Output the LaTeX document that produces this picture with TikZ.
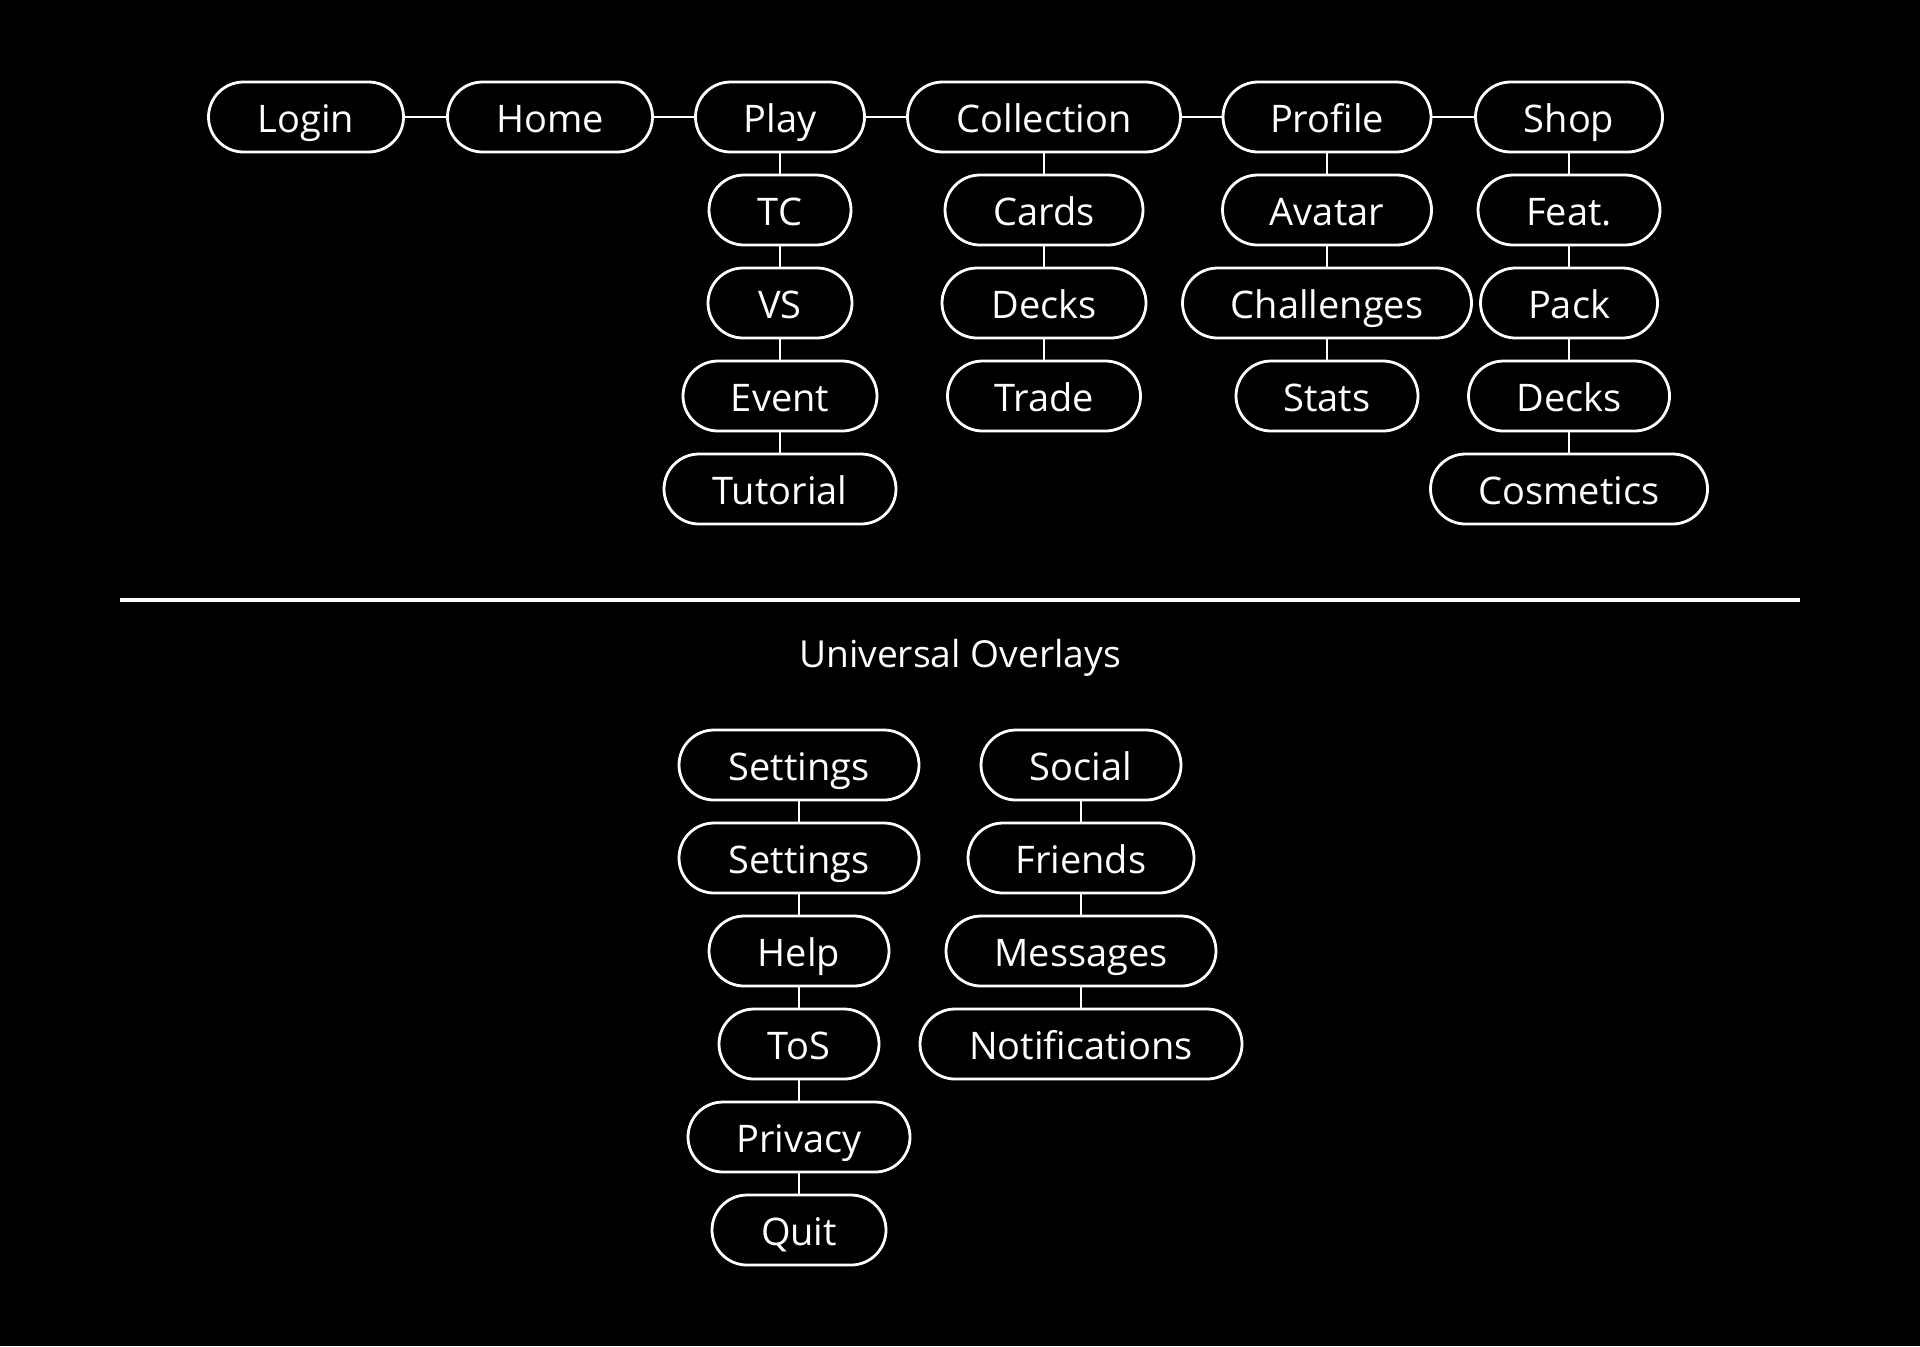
\documentclass[tikz,border=0pt]{standalone}
\usepackage{fontspec}
\setmainfont{Open Sans}
\begin{document}
\begin{tikzpicture}[x=0.5pt,y=-0.5pt,
  pill/.style={draw=white, line width=1.4pt, rounded corners=17.5pt,
    minimum height=35pt, inner sep=0pt, text=white,
    font=\fontsize{19}{22}\selectfont, text height=17pt, text depth=1.8pt},
  conn/.style={draw=white, line width=1.4pt},
  title/.style={text=white, font=\fontsize{18.6}{22}\selectfont, inner sep=0pt}]
\fill[black] (0,0) rectangle (1920,1346);
\useasboundingbox (0,0) rectangle (1920,1346);
% top row
\node[pill, minimum width=97.5pt]  (login) at (306,117) {Login};
\node[pill, minimum width=102.5pt] (home)  at (550,117) {Home};
\node[pill, minimum width=84.5pt]  (play)  at (780,117) {Play};
\node[pill, minimum width=136.5pt] (coll)  at (1044,117) {Collection};
\node[pill, minimum width=104pt]   (prof)  at (1327,117) {Profile};
\node[pill, minimum width=93.5pt]  (shop)  at (1569,117) {Shop};
% play column
\node[pill, minimum width=71pt]  (tc)    at (780,210) {TC};
\node[pill, minimum width=72pt]  (vs)    at (780,303) {VS};
\node[pill, minimum width=97pt]  (event) at (780,396) {Event};
\node[pill, minimum width=116pt] (tut)   at (780,489) {Tutorial};
% collection column
\node[pill, minimum width=99pt]   (cards) at (1044,210) {Cards};
\node[pill, minimum width=102pt]  (decks) at (1044,303) {Decks};
\node[pill, minimum width=96.5pt] (trade) at (1044,396) {Trade};
% profile column
\node[pill, minimum width=104.5pt] (avatar) at (1327,210) {Avatar};
\node[pill, minimum width=144.5pt] (chall)  at (1327,303) {Challenges};
\node[pill, minimum width=91pt]    (stats)  at (1327,396) {Stats};
% shop column
\node[pill, minimum width=91pt]    (feat)   at (1569,210) {Feat.};
\node[pill, minimum width=88.5pt]  (pack)   at (1569,303) {Pack};
\node[pill, minimum width=100.5pt] (sdecks) at (1569,396) {Decks};
\node[pill, minimum width=138.5pt] (cosm)   at (1569,489) {Cosmetics};
% connectors top
\draw[conn] (login) -- (home);
\draw[conn] (home) -- (play);
\draw[conn] (play) -- (coll);
\draw[conn] (coll) -- (prof);
\draw[conn] (prof) -- (shop);
\draw[conn] (play) -- (tc);
\draw[conn] (tc) -- (vs);
\draw[conn] (vs) -- (event);
\draw[conn] (event) -- (tut);
\draw[conn] (coll) -- (cards);
\draw[conn] (cards) -- (decks);
\draw[conn] (decks) -- (trade);
\draw[conn] (prof) -- (avatar);
\draw[conn] (avatar) -- (chall);
\draw[conn] (chall) -- (stats);
\draw[conn] (shop) -- (feat);
\draw[conn] (feat) -- (pack);
\draw[conn] (pack) -- (sdecks);
\draw[conn] (sdecks) -- (cosm);
% separator
\coordinate (sepl) at (120,600);
\coordinate (sepr) at (1800,600);
\draw[white, line width=1.6pt] (sepl) -- (sepr);
\node[title] (uo) at (960,658) {Universal Overlays};
% lower left column
\node[pill, minimum width=120pt] (set1) at (799,765) {Settings};
\node[pill, minimum width=120pt] (set2) at (799,858) {Settings};
\node[pill, minimum width=90pt]  (help) at (799,951) {Help};
\node[pill, minimum width=80pt]  (tos)  at (799,1044) {ToS};
\node[pill, minimum width=111pt] (priv) at (799,1137) {Privacy};
\node[pill, minimum width=87pt]  (quit) at (799,1230) {Quit};
% lower right column
\node[pill, minimum width=100pt] (social) at (1081,765) {Social};
\node[pill, minimum width=113pt] (friends) at (1081,858) {Friends};
\node[pill, minimum width=135pt] (msgs) at (1081,951) {Messages};
\node[pill, minimum width=161pt] (notif) at (1081,1044) {Notifications};
\draw[conn] (set1) -- (set2);
\draw[conn] (set2) -- (help);
\draw[conn] (help) -- (tos);
\draw[conn] (tos) -- (priv);
\draw[conn] (priv) -- (quit);
\draw[conn] (social) -- (friends);
\draw[conn] (friends) -- (msgs);
\draw[conn] (msgs) -- (notif);
\end{tikzpicture}
\end{document}
